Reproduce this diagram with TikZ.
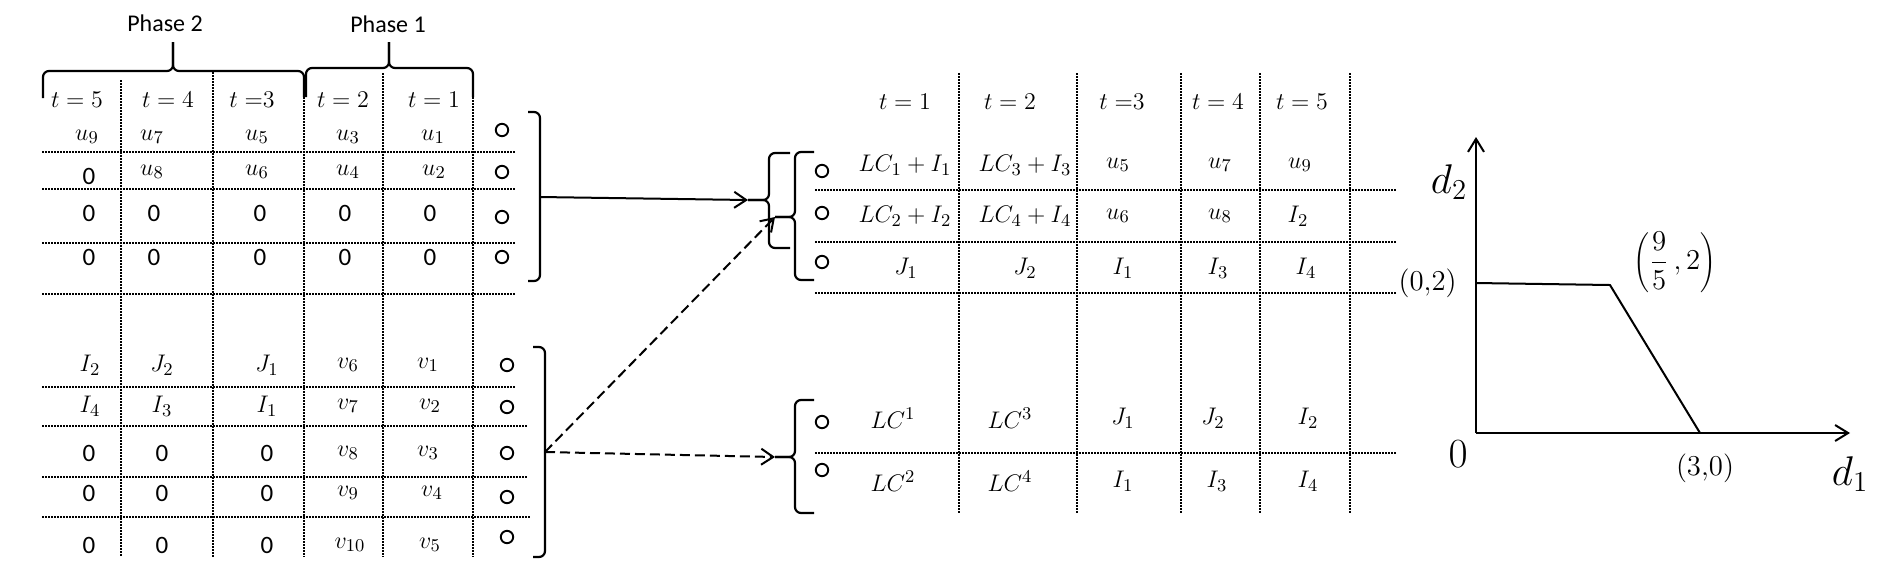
\documentclass[tikz,border=0pt]{standalone}
\usepackage[no-math]{fontspec}
\newfontfamily\calib{Carlito}
\usetikzlibrary{arrows.meta}
\begin{document}
\begin{tikzpicture}[x=0.5pt,y=-0.5pt,
  dotline/.style={line width=0.8pt, dash pattern=on 0.75pt off 0.75pt},
  brc/.style={line width=1.1pt, rounded corners=3pt},
  circ/.style={draw, circle, minimum size=6.2pt, inner sep=0pt, line width=0.95pt},
  cell/.style={inner sep=0pt, font=\fontsize{12.5}{14}\selectfont},
  zero/.style={inner sep=0pt, font=\calib\fontsize{12.5}{14}\selectfont},
  hd/.style={inner sep=0pt, font=\fontsize{13}{15}\selectfont},
  ph/.style={inner sep=0pt, font=\calib\fontsize{12}{14}\selectfont},
  arr/.style={line width=1pt, -{Straight Barb[length=6pt,width=8pt]}},
  darr/.style={arr, dash pattern=on 5pt off 2.5pt},
  axis/.style={line width=1pt, -{Straight Barb[length=6.5pt,width=8pt]}},
  glab/.style={inner sep=0pt}
]
\useasboundingbox (0,0) rectangle (1890,575);

% ---------- left dotted grid ----------
\foreach \x/\y in {121/80,213/72,304/97,383/73,473/97}
  \draw[dotline] (\x,\y) -- (\x,557);
\foreach \y/\e in {152/516,189/516,243/516,294/516,387/516,426/527,477/527,517/531}
  \draw[dotline] (42,\y) -- (\e,\y);

% ---------- phase braces ----------
\node[ph] (ph2) at (165,23) {Phase 2};
\node[ph] (ph1) at (388,24) {Phase 1};
\draw[brc] (43,98) -- (43,71) -- (173,71) -- (173,42);
\draw[brc] (173,42) -- (173,71) -- (304,71) -- (304,97);
\draw[brc] (306,97) -- (306,68) -- (389,68) -- (389,42);
\draw[brc] (389,42) -- (389,68) -- (473,68) -- (473,97);

% ---------- top-left table ----------
\foreach \x/\t [count=\i] in {77/{$t = 5$},168/{$t = 4$},252/{$t\;{=}3$},343/{$t = 2$},434/{$t = 1$}}
  \node[hd] (TH\i) at (\x,100) {\t};
\foreach \x/\v [count=\i] in {87/u_9,152/u_7,257/u_5,348/u_3,433/u_1}
  \node[cell] (TA\i) at (\x,137) {$\v$};
\node[zero] (TB1) at (89,176) {0};
\foreach \x/\v [count=\i from 2] in {152/u_8,257/u_6,348/u_4,434/u_2}
  \node[cell] (TB\i) at (\x,172) {$\v$};
\foreach \x [count=\i] in {89,154,260,345,430} {
  \node[zero] (TC\i) at (\x,213) {0};
  \node[zero] (TD\i) at (\x,257) {0};
}
\foreach \y [count=\i] in {130,172,217,257}
  \node[circ] (lc\i) at (502,\y) {};

% ---------- bottom-left table ----------
\foreach \x/\v [count=\i] in {90/I_2,162/J_2,267/J_1,348/v_6,428/v_1}
  \node[cell] (BA\i) at (\x,365) {$\v$};
\foreach \x/\v [count=\i] in {90/I_4,162/I_3,267/I_1,348/v_7,430/v_2}
  \node[cell] (BB\i) at (\x,406) {$\v$};
\foreach \x [count=\i] in {89,162,267} {
  \node[zero] (BC\i) at (\x,453) {0};
  \node[zero] (BD\i) at (\x,493) {0};
  \node[zero] (BE\i) at (\x,545) {0};
}
\node[cell] (BC4) at (348,453) {$v_8$};
\node[cell] (BC5) at (428,453) {$v_3$};
\node[cell] (BD4) at (348,493) {$v_9$};
\node[cell] (BD5) at (432,493) {$v_4$};
\node[cell] (BE4) at (350,545) {$v_{10}$};
\node[cell] (BE5) at (430,545) {$v_5$};
\foreach \y [count=\i] in {365,407,453,497,537}
  \node[circ] (lbc\i) at (507,\y) {};

% ---------- left brackets ----------
\coordinate (k1) at (540,197);
\coordinate (k2) at (545,452);
\draw[brc] (528,112) -- (540,112) -- (540,281) -- (528,281);
\draw[brc] (533,347) -- (545,347) -- (545,557) -- (533,557);

% ---------- right braces ----------
\coordinate (bA) at (748,200);
\coordinate (bB) at (775,217);
\coordinate (bC) at (775,457);
\draw[brc] (790,153) -- (769,153) -- (769,200) -- (bA);
\draw[brc] (bA) -- (769,200) -- (769,248) -- (790,248);
\draw[brc] (814,152) -- (795,152) -- (795,217) -- (bB);
\draw[brc] (bB) -- (795,217) -- (795,280) -- (814,280);
\draw[brc] (814,400) -- (795,400) -- (795,457) -- (bC);
\draw[brc] (bC) -- (795,457) -- (795,513) -- (814,513);

% ---------- connectors ----------
\draw[arr] (k1) -- (bA);
\draw[darr] (k2) -- (bB);
\draw[darr] (k2) -- (bC);

% ---------- right dotted grid ----------
\foreach \x in {959,1077,1181,1260,1350}
  \draw[dotline] (\x,73) -- (\x,513);
\foreach \y in {190,242,293,453}
  \draw[dotline] (815,\y) -- (1397,\y);

% ---------- right table ----------
\foreach \x/\t [count=\i] in {905/{$t = 1$},1010/{$t = 2$},1122/{$t\;{=}3$},1218/{$t = 4$},1302/{$t = 5$}}
  \node[hd] (RH\i) at (\x,102) {\t};
\foreach \x/\v [count=\i] in {905/{LC_1+I_1},1025/{LC_3+I_3},1118/u_5,1220/u_7,1300/u_9}
  \node[cell] (RA\i) at (\x,165) {$\v$};
\foreach \x/\v [count=\i] in {905/{LC_2+I_2},1025/{LC_4+I_4},1118/u_6,1220/u_8,1298/I_2}
  \node[cell] (RB\i) at (\x,216) {$\v$};
\foreach \x/\v [count=\i] in {906/J_1,1025/J_2,1123/I_1,1218/I_3,1306/I_4}
  \node[cell] (RC\i) at (\x,268) {$\v$};
\foreach \x/\v [count=\i] in {893/{LC^1},1010/{LC^3},1123/J_1,1213/J_2,1308/I_2}
  \node[cell] (RD\i) at (\x,418) {$\v$};
\foreach \x/\v [count=\i] in {893/{LC^2},1010/{LC^4},1123/I_1,1217/I_3,1308/I_4}
  \node[cell] (RE\i) at (\x,481) {$\v$};
\foreach \y [count=\i] in {171,213,262}
  \node[circ] (rc\i) at (822,\y) {};
\foreach \y [count=\i] in {422,470}
  \node[circ] (rbc\i) at (822,\y) {};

% ---------- graph ----------
\coordinate (O) at (1476,433);
\coordinate (Ytop) at (1476,137);
\coordinate (Xend) at (1850,433);
\coordinate (P02) at (1476,283);
\coordinate (Pk) at (1610,285);
\coordinate (P30) at (1700,433);
\draw[axis] (O) -- (Ytop);
\draw[axis] (O) -- (Xend);
\draw[line width=1pt] (P02) -- (Pk) -- (P30);
\node[glab, font=\fontsize{20}{22}\selectfont] (d2) at (1449,182) {$d_2$};
\node[glab, font=\fontsize{20}{22}\selectfont] (d1) at (1850,474) {$d_1$};
\node[glab, font=\fontsize{20}{22}\selectfont] (zero) at (1458,454) {$0$};
\node[glab, font=\fontsize{13.5}{15}\selectfont, anchor=east] (l02) at (1457,283) {$(0{,}2)$};
\node[glab, font=\fontsize{14}{16}\selectfont] (l30) at (1705,468) {$(3{,}0)$};
\node[glab, font=\fontsize{14}{16}\selectfont] (l952) at (1675,262) {$\Biggl(\displaystyle\frac{9}{5}\,,2\Biggr)$};
\end{tikzpicture}
\end{document}
